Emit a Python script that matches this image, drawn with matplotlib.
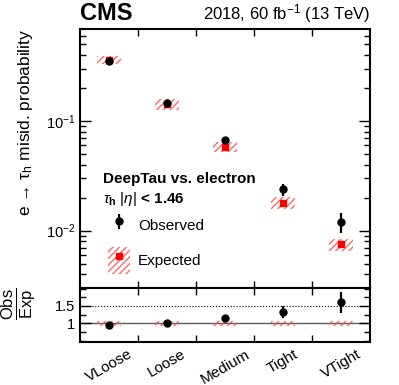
import numpy as np
import matplotlib
matplotlib.use("Agg")
import matplotlib.pyplot as plt
from matplotlib.patches import Patch
from matplotlib.lines import Line2D
from matplotlib.ticker import FixedLocator, LogLocator, NullFormatter

plt.rcParams["font.family"] = ["Liberation Sans", "DejaVu Sans"]
plt.rcParams["mathtext.fontset"] = "custom"
plt.rcParams["mathtext.rm"] = "Liberation Sans"
plt.rcParams["mathtext.it"] = "Liberation Sans:italic"
plt.rcParams["mathtext.bf"] = "Liberation Sans:bold"
plt.rcParams["hatch.linewidth"] = 1.0

# working points and values
wps = ["VLoose", "Loose", "Medium", "Tight", "VTight"]
obs = [0.352, 0.145, 0.067, 0.0238, 0.0119]
obs_lo = [0.010, 0.004, 0.003, 0.003, 0.0023]
obs_hi = [0.010, 0.004, 0.003, 0.003, 0.0027]
expv = [0.36, 0.142, 0.058, 0.018, 0.0075]
exp_rel = [0.08, 0.11, 0.11, 0.12, 0.13]
ratio = [0.96, 1.02, 1.14, 1.32, 1.61]
ratio_lo = [0.03, 0.03, 0.04, 0.17, 0.31]
ratio_hi = [0.03, 0.03, 0.04, 0.18, 0.29]
ratio_band = [0.07, 0.07, 0.08, 0.08, 0.08]

x = np.arange(len(wps))
expv = np.array(expv)
exp_rel = np.array(exp_rel)
hatch_col = (1.0, 0.3, 0.3, 0.85)
bw = 0.42

fig = plt.figure(figsize=(3.99, 3.85), dpi=100)
ax = fig.add_axes([0.2005, 0.252, 0.727, 0.6727])
rax = fig.add_axes([0.2005, 0.1117, 0.727, 0.1403], sharex=ax)

# main panel
ax.bar(x, 2 * expv * exp_rel, bottom=expv * (1 - exp_rel), width=bw,
       fill=False, hatch="/////", edgecolor=hatch_col, linewidth=0)
ax.plot(x, expv, "s", color="red", markersize=4.8, linestyle="none")
obs_h = ax.errorbar(x, obs, yerr=[obs_lo, obs_hi], fmt="o", color="black",
                    markersize=5, elinewidth=1.6, capsize=0)
ax.set_yscale("log")
ax.set_ylim(0.003, 0.69)
ax.set_xlim(-0.5, 4.5)
ax.yaxis.set_minor_locator(LogLocator(base=10, subs=np.arange(2, 10)))
ax.yaxis.set_minor_formatter(NullFormatter())
ax.set_ylabel("e → τ$_\\mathrm{h}$ misid. probability", fontsize=12.5)
ax.yaxis.label.set_ha("right")
ax.yaxis.set_label_coords(-0.155, 1.0)

for a in (ax, rax):
    a.xaxis.set_major_locator(FixedLocator(x))
    a.xaxis.set_minor_locator(FixedLocator(x[:-1] + 0.5))
    a.tick_params(axis="both", which="both", direction="in", top=True, right=True,
                  labelsize=10.5, width=1.0)
    a.tick_params(axis="x", which="major", length=0)
    a.tick_params(axis="x", which="minor", length=5)
    a.tick_params(axis="y", which="major", length=8)
    a.tick_params(axis="y", which="minor", length=4.5)
    for s in a.spines.values():
        s.set_linewidth(1.5)
ax.tick_params(axis="x", labelbottom=False)

ax.text(0.08, 0.42, "DeepTau vs. electron", transform=ax.transAxes,
        fontsize=11, fontweight="bold", va="center")
ax.text(0.08, 0.345, r"$\tau_\mathbf{h}$ $|\eta|$ < 1.46", transform=ax.transAxes,
        fontsize=11, fontweight="bold", va="center")

exp_patch = Patch(fill=False, hatch="/////", edgecolor=hatch_col, linewidth=0)
exp_mark = Line2D([], [], marker="s", color="red", markersize=4.8, linestyle="none")
ax.legend([obs_h, (exp_patch, exp_mark)], ["Observed", "Expected"],
          loc="upper left", bbox_to_anchor=(0.05, 0.345), frameon=False,
          fontsize=11, handlelength=1.4, handleheight=2.3, labelspacing=0.55,
          handletextpad=0.55)

fig.text(0.2005, 0.935, "CMS", fontsize=17, fontweight="bold", ha="left", va="bottom")
fig.text(0.927, 0.935, r"2018, 60 fb$^{-1}$ (13 TeV)", fontsize=12, ha="right", va="bottom")

# ratio panel
rb = np.array(ratio_band)
rax.bar(x, 2 * rb, bottom=1 - rb, width=bw, fill=False, hatch="/////",
        edgecolor=hatch_col, linewidth=0)
rax.axhline(1.0, color="0.35", linewidth=1.0, zorder=0)
rax.axhline(1.5, color="black", linewidth=0.8, linestyle=":", zorder=0)
rax.errorbar(x, ratio, yerr=[ratio_lo, ratio_hi], fmt="o", color="black",
             markersize=5, elinewidth=1.6, capsize=0)
rax.set_ylim(0.46, 2.02)
rax.yaxis.set_major_locator(FixedLocator([1.0, 1.5]))
rax.yaxis.set_minor_locator(FixedLocator([0.5, 0.75, 1.25, 1.75, 2.0]))
rax.set_yticklabels(["1", "1.5"])
rax.set_xticks(x)
rax.set_xticklabels(wps, rotation=30, ha="center", fontsize=11)
rax.set_ylabel(r"$\frac{\mathrm{Obs}}{\mathrm{Exp}}$", fontsize=17)
rax.yaxis.label.set_ha("right")
rax.yaxis.set_label_coords(-0.148, 1.0)

fig.savefig("out.png", dpi=100)
